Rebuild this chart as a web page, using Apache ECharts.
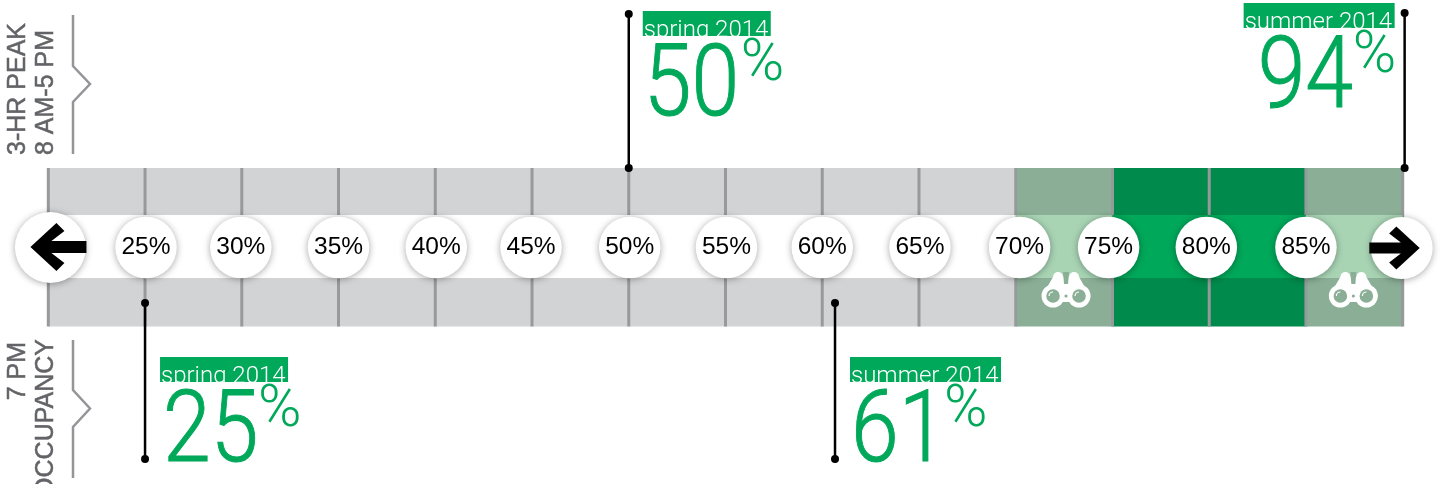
<!DOCTYPE html>
<html>
<head>
<meta charset="utf-8">
<style>
  html, body { margin: 0; padding: 0; background: #fff; }
  #chart { width: 1444px; height: 484px; }
</style>
<script src="https://cdn.jsdelivr.net/npm/echarts@6/dist/echarts.min.js"></script>
</head>
<body>
<div id="chart"></div>
<script>
// occupancy scale
var tickValues = [20, 25, 30, 35, 40, 45, 50, 55, 60, 65, 70, 75, 80, 85, 90];
var zoneStart = [20, 70, 75, 85];
var zoneEnd = [70, 75, 85, 90];
var zoneKind = ['grey', 'light', 'dark', 'light'];
var bubbleLabels = ['25%', '30%', '35%', '40%', '45%', '50%', '55%', '60%', '65%', '70%', '75%', '80%', '85%'];
var bubbleValues = [25.05, 29.95, 35, 40.05, 44.95, 50.05, 55.05, 60, 65.05, 70.2, 74.8, 79.85, 85];
var binocularValues = [72.6, 87.45];

// measured callouts
var seasons = ['spring 2014', 'summer 2014', 'spring 2014', 'summer 2014'];
var occupancy = ['50', '94', '25', '61'];
var markerValues = [50, 90.1, 25, 60.66];

// placement of the callouts, not data
var lineTop = [14, 13, 303, 303];
var lineBottom = [168, 168, 459, 459];
var tagDx = [14, -161, 15, 15];
var tagTop = [11, 3, 357, 357];
var numDx = [1, 14, 3, 1];
var pctDx = [98, 109, 98, 94];

var GREEN = '#00a85a';
var fills = {
  grey: ['#d1d3d4', '#ffffff'],
  light: ['#8aae96', '#a8d4b4'],
  dark: ['#008a4b', '#00a85a']
};
var bandTop = 168, midTop = 215, midBottom = 278, bandBottom = 326.5, midY = 247.5;
var bigFont = '300 100px Roboto', tagFont = '300 24px Roboto';

function zoneBands(params, api) {
  var i = api.value(0);
  var x0 = api.coord([zoneStart[i], 0])[0], x1 = api.coord([zoneEnd[i], 0])[0];
  var c = fills[zoneKind[i]];
  return { type: 'rect', shape: { x: x0, y: bandTop, width: x1 - x0, height: bandBottom - bandTop }, style: { fill: c[0] } };
}
function zoneMiddles(params, api) {
  var i = api.value(0);
  var x0 = api.coord([zoneStart[i], 0])[0], x1 = api.coord([zoneEnd[i], 0])[0];
  var c = fills[zoneKind[i]];
  return { type: 'rect', shape: { x: x0, y: midTop, width: x1 - x0, height: midBottom - midTop }, style: { fill: c[1] } };
}
function tickLine(params, api) {
  var x = api.coord([api.value(0), 0])[0];
  return { type: 'line', shape: { x1: x, y1: bandTop, x2: x, y2: bandBottom }, style: { stroke: '#98999b', lineWidth: 3 } };
}
function binoculars(params, api) {
  var x = api.coord([api.value(0), 0])[0], y = 296;
  var bg = fills.light[0];
  var white = { fill: '#fff' };
  return {
    type: 'group',
    children: [
      { type: 'circle', shape: { cx: x - 8, cy: y - 19, r: 5 }, style: white },
      { type: 'circle', shape: { cx: x + 8, cy: y - 19, r: 5 }, style: white },
      { type: 'polygon', shape: { points: [[x - 13, y - 19], [x + 13, y - 19], [x + 24, y], [x + 6, y + 6], [x - 6, y + 6], [x - 24, y]] }, style: white },
      { type: 'polygon', shape: { points: [[x - 3, y - 24], [x + 3, y - 24], [x + 2, y - 12], [x - 2, y - 12]] }, style: { fill: bg } },
      { type: 'circle', shape: { cx: x - 13, cy: y, r: 11.5 }, style: white },
      { type: 'circle', shape: { cx: x + 13, cy: y, r: 11.5 }, style: white },
      { type: 'polygon', shape: { points: [[x - 3, y + 12], [x + 3, y + 12], [x + 2, y + 6], [x - 2, y + 6]] }, style: { fill: bg } },
      { type: 'circle', shape: { cx: x, cy: y, r: 1.6 }, style: { fill: bg } },
      { type: 'circle', shape: { cx: x - 13, cy: y, r: 6.8 }, style: { fill: bg } },
      { type: 'circle', shape: { cx: x + 13, cy: y, r: 6.8 }, style: { fill: bg } },
      { type: 'arc', shape: { cx: x - 13, cy: y, r: 4, startAngle: Math.PI, endAngle: Math.PI * 1.5 }, style: { stroke: '#fff', lineWidth: 1.2, fill: null } },
      { type: 'arc', shape: { cx: x + 13, cy: y, r: 4, startAngle: Math.PI, endAngle: Math.PI * 1.5 }, style: { stroke: '#fff', lineWidth: 1.2, fill: null } }
    ]
  };
}
function callout(params, api) {
  var i = api.value(0);
  var x = api.coord([markerValues[i], 0])[0];
  var tagX = x + tagDx[i], tagY = tagTop[i];
  var tagW = seasons[i] === 'spring 2014' ? 128 : 151;
  var black = { fill: '#000' };
  return {
    type: 'group',
    children: [
      { type: 'line', shape: { x1: x, y1: lineTop[i], x2: x, y2: lineBottom[i] }, style: { stroke: '#000', lineWidth: 2.5 } },
      { type: 'circle', shape: { cx: x, cy: lineTop[i], r: 4 }, style: black },
      { type: 'circle', shape: { cx: x, cy: lineBottom[i], r: 4 }, style: black },
      { type: 'rect', shape: { x: tagX, y: tagY, width: tagW, height: 25 }, style: { fill: GREEN } },
      {
        type: 'text', x: tagX + 1, y: tagY + 25,
        clipPath: { type: 'rect', shape: { x: -2, y: -25, width: tagW, height: 25 } },
        style: { text: seasons[i], font: tagFont, fill: '#fff', align: 'left', verticalAlign: 'middle', y: -5.5 }
      },
      {
        type: 'text', x: tagX + numDx[i], y: tagY + 79, scaleX: 0.86,
        style: { text: occupancy[i], font: bigFont, fill: GREEN, stroke: GREEN, lineWidth: 1, align: 'left', verticalAlign: 'middle' }
      },
      {
        type: 'text', x: tagX + pctDx[i], y: tagY + 54, scaleX: 0.98,
        style: { text: '%', font: '300 60px Roboto', fill: GREEN, align: 'left', verticalAlign: 'middle' }
      }
    ]
  };
}
function arrow(params, api) {
  var k = api.value(1);
  var x = api.coord([api.value(0), 0])[0], y = api.value(2);
  var pts = [[-20, 0], [6, -24], [14, -16], [1, -6], [36, -6], [36, 6], [1, 6], [14, 16], [6, 24]];
  return {
    type: 'polygon',
    shape: { points: pts.map(function (p) { return [x + k * p[0], y + Math.abs(k) * p[1]]; }) },
    style: { fill: '#000' }
  };
}
function ids(arr) { return arr.map(function (d, i) { return [i]; }); }

var sideLabel = function (text, x, y, align) {
  return {
    type: 'text', x: x, y: y, rotation: Math.PI / 2,
    style: { text: text, font: '25px "Liberation Sans"', fill: '#626366', stroke: '#626366', lineWidth: 0.5, align: align, verticalAlign: 'bottom' }
  };
};
var bracket = function (y0, y1, y2, y3) {
  return { type: 'polyline', shape: { points: [[73, y0], [73, y1], [90, (y1 + y2) / 2], [73, y2], [73, y3]] }, style: { stroke: '#939598', lineWidth: 2.5, fill: null } };
};

var myChart = echarts.init(document.getElementById('chart'));
myChart.setOption({
  animation: false,
  grid: { left: 48.3, width: 1354.4, top: 0, height: 484 },
  xAxis: { type: 'value', min: 20, max: 90, interval: 5, show: false },
  yAxis: { type: 'value', min: 0, max: 484, inverse: true, show: false },
  graphic: [
    bracket(15, 66, 102, 154),
    bracket(340, 390, 427, 478),
    sideLabel('3-HR PEAK', 31, 155, 'left'),
    sideLabel('8 AM-5 PM', 59, 155, 'left'),
    sideLabel('7 PM', 31, 342, 'right'),
    sideLabel('OCCUPANCY', 59, 339, 'right')
  ],
  series: [
    { type: 'custom', z: 1, silent: true, renderItem: zoneBands, data: ids(zoneStart), encode: { x: -1, y: -1 } },
    { type: 'custom', z: 2, silent: true, renderItem: tickLine, data: tickValues.map(function (v) { return [v]; }), encode: { x: 0, y: -1 } },
    { type: 'custom', z: 3, silent: true, renderItem: zoneMiddles, data: ids(zoneStart), encode: { x: -1, y: -1 } },
    { type: 'custom', z: 4, silent: true, renderItem: binoculars, data: binocularValues.map(function (v) { return [v]; }), encode: { x: 0, y: -1 } },
    {
      type: 'scatter', z: 5, silent: true, symbol: 'circle', symbolSize: 61.5,
      itemStyle: { color: '#fff', opacity: 1, shadowBlur: 7, shadowColor: 'rgba(0,0,0,0.35)', shadowOffsetY: 1 },
      label: { show: true, position: 'inside', offset: [0, 0], color: '#000', fontFamily: 'Liberation Sans', fontSize: 24.5, formatter: function (p) { return bubbleLabels[p.dataIndex]; } },
      data: bubbleValues.map(function (v) { return [v, midY]; })
    },
    {
      type: 'scatter', z: 5, silent: true, symbol: 'circle',
      symbolSize: function (v, p) { return p.dataIndex === 0 ? 71 : 62; },
      itemStyle: { color: '#fff', opacity: 1, shadowBlur: 7, shadowColor: 'rgba(0,0,0,0.35)', shadowOffsetY: 1 },
      data: [[20.11, midY], [89.95, midY + 0.5]]
    },
    { type: 'custom', z: 6, silent: true, renderItem: arrow, data: [[20.11, 1, 247], [89.95, -0.9, 248]], encode: { x: 0, y: -1 } },
    { type: 'custom', z: 7, silent: true, renderItem: callout, data: ids(occupancy), encode: { x: -1, y: -1 } }
  ]
});
</script>
</body>
</html>
